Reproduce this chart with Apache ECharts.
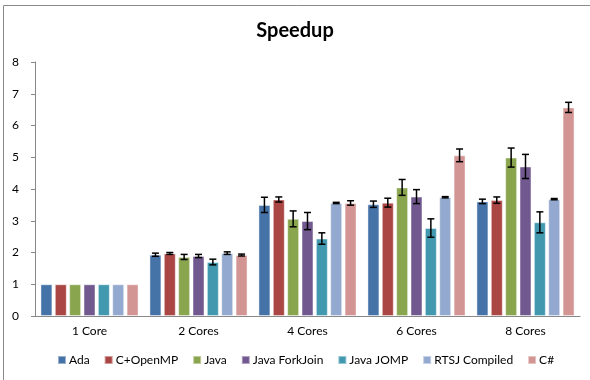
<!DOCTYPE html>
<html>
<head>
<meta charset="utf-8">
<script src="https://cdn.jsdelivr.net/npm/echarts@6/dist/echarts.min.js"></script>
<style>html,body{margin:0;padding:0;background:#fff}#c{width:590px;height:380px}</style>
</head>
<body>
<div id="c"></div>
<script>
var categories = ['1 Core', '2 Cores', '4 Cores', '6 Cores', '8 Cores'];
var seriesNames = ['Ada', 'C+OpenMP', 'Java', 'Java ForkJoin', 'Java JOMP', 'RTSJ Compiled', 'C#'];
var colors = ['#4572A7', '#AA4643', '#89A54E', '#71588F', '#4198AF', '#93A9CF', '#D39593'];
var yTicks = [0, 1, 2, 3, 4, 5, 6, 7, 8];

var adaValues = [1, 1.93, 3.50, 3.52, 3.61];
var copenmpValues = [1, 1.97, 3.67, 3.57, 3.65];
var javaValues = [1, 1.86, 3.06, 4.05, 4.99];
var forkjoinValues = [1, 1.89, 2.99, 3.76, 4.71];
var jompValues = [1, 1.70, 2.44, 2.77, 2.95];
var rtsjValues = [1, 1.98, 3.56, 3.74, 3.68];
var csharpValues = [1, 1.92, 3.56, 5.06, 6.57];

var adaErr = [0, 0.05, 0.24, 0.10, 0.07];
var copenmpErr = [0, 0.03, 0.08, 0.14, 0.10];
var javaErr = [0, 0.08, 0.25, 0.25, 0.30];
var forkjoinErr = [0, 0.05, 0.27, 0.22, 0.38];
var jompErr = [0, 0.09, 0.18, 0.29, 0.33];
var rtsjErr = [0, 0.04, 0.02, 0.02, 0.02];
var csharpErr = [0, 0.03, 0.07, 0.20, 0.16];

var allValues = [adaValues, copenmpValues, javaValues, forkjoinValues, jompValues, rtsjValues, csharpValues];
var allErr = [adaErr, copenmpErr, javaErr, forkjoinErr, jompErr, rtsjErr, csharpErr];

var FONT = 'Lato';
var CAT_GAP = 0.10, BAR_GAP = 0.2;
var n = seriesNames.length;
var series = [];
seriesNames.forEach(function (name, i) {
  series.push({
    name: name, type: 'bar', data: allValues[i],
    barGap: (BAR_GAP * 100) + '%', barCategoryGap: (CAT_GAP * 100) + '%',
    itemStyle: { color: colors[i], borderColor: 'rgba(255,255,255,0.45)', borderWidth: 1 }
  });
});
seriesNames.forEach(function (name, i) {
  var d = [];
  for (var k = 0; k < categories.length; k++) {
    if (allErr[i][k] > 0) d.push([k, allValues[i][k], allErr[i][k]]);
  }
  series.push({
    type: 'custom', name: name + ' err', silent: true, z: 10,
    data: d,
    renderItem: function (params, api) {
      var k = api.value(0), v = api.value(1), e = api.value(2);
      var band = api.size([1, 0])[0];
      var bw = band * (1 - CAT_GAP) / (n + (n - 1) * BAR_GAP);
      var center = api.coord([k, v]);
      var x = center[0] - band * (1 - CAT_GAP) / 2 + i * bw * (1 + BAR_GAP) + bw / 2;
      var yTop = api.coord([k, v + e])[1];
      var yBot = api.coord([k, v - e])[1];
      var cap = 3.5;
      var st = { stroke: '#000', lineWidth: 1.5 };
      return {
        type: 'group',
        children: [
          { type: 'line', shape: { x1: x, y1: yTop, x2: x, y2: yBot }, style: st },
          { type: 'line', shape: { x1: x - cap, y1: yTop, x2: x + cap, y2: yTop }, style: st },
          { type: 'line', shape: { x1: x - cap, y1: yBot, x2: x + cap, y2: yBot }, style: st }
        ]
      };
    }
  });
});

var chart = echarts.init(document.getElementById('c'));
chart.setOption({
  animation: false,
  backgroundColor: '#fff',
  textStyle: { fontFamily: FONT },
  graphic: [{
    type: 'rect', shape: { x: 3.5, y: 5.5, width: 600, height: 400 },
    style: { fill: 'none', stroke: '#8a8a8a', lineWidth: 1 }, z: -1
  }],
  title: {
    text: 'Speedup', left: 'center', top: 16,
    textStyle: { fontFamily: FONT, fontSize: 20, fontWeight: 'bold', color: '#000' }
  },
  legend: {
    data: seriesNames, top: 354, left: 57, padding: 0,
    itemWidth: 8, itemHeight: 8, itemGap: 14, icon: 'rect',
    textStyle: { fontFamily: FONT, fontSize: 12, color: '#000', padding: [0, 0, 0, -2] }
  },
  grid: { left: 35, right: 10, top: 62, bottom: 64, containLabel: false },
  xAxis: {
    type: 'category', data: categories,
    axisLine: { lineStyle: { color: '#888' } },
    axisTick: { show: false },
    axisLabel: { color: '#000', fontSize: 12, margin: 9, fontFamily: FONT }
  },
  yAxis: {
    type: 'value', min: yTicks[0], max: yTicks[yTicks.length - 1], interval: 1,
    axisLine: { show: true, lineStyle: { color: '#888' } },
    axisTick: { show: true, length: 4, lineStyle: { color: '#888' } },
    splitLine: { show: false },
    axisLabel: { color: '#000', fontSize: 12, margin: 16, fontFamily: FONT }
  },
  series: series
});
</script>
</body>
</html>
